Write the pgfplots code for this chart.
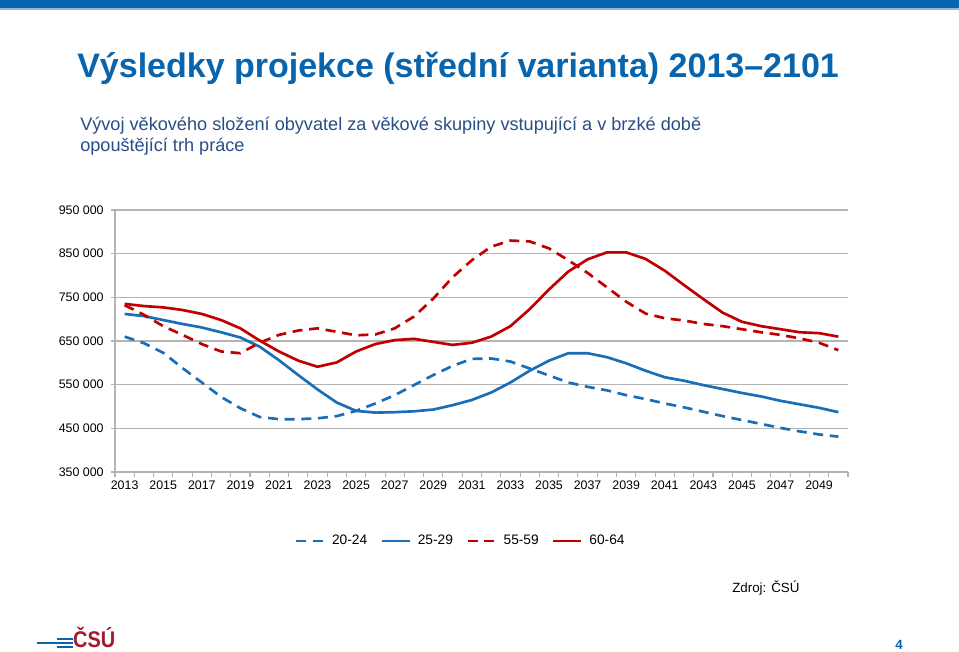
\documentclass[border=0pt]{standalone}
\usepackage{pgfplots}
\pgfplotsset{compat=1.18}
\usepackage{fontspec}
\setmainfont{Liberation Sans}
\definecolor{csublue}{RGB}{8,100,172}
\definecolor{subblue}{RGB}{40,78,135}
\definecolor{serblue}{RGB}{26,110,184}
\definecolor{serred}{RGB}{192,0,0}
\definecolor{gridgray}{RGB}{180,180,180}
\definecolor{logored}{RGB}{160,28,45}

\begin{document}
\begin{tikzpicture}[x=0.75pt,y=-0.75pt]
\path[use as bounding box, fill=white] (0,0) rectangle (959,652);
\fill[csublue] (0,0) rectangle (959,8);
\fill[csublue!45] (0,8.5) rectangle (959,10);
\node[anchor=base west, text=csublue, font=\bfseries\fontsize{25.5}{30}\selectfont, inner sep=0] at (77,78) {Výsledky projekce (střední varianta) 2013–2101};
\node[anchor=base west, text=subblue, font=\fontsize{13.6}{16}\selectfont, inner sep=0] at (80,131) {Vývoj věkového složení obyvatel za věkové skupiny vstupující a v brzké době};
\node[anchor=base west, text=subblue, font=\fontsize{13.6}{16}\selectfont, inner sep=0] at (80,152) {opouštějící trh práce};
\node[anchor=base west, font=\fontsize{10}{12}\selectfont, inner sep=0] at (732,592) {Zdroj: ČSÚ};
\node[anchor=center, text=csublue, font=\bfseries\fontsize{10}{12}\selectfont, inner sep=0] at (899,645) {4};
% logo
\fill[csublue] (57,637.5) rectangle (73,640);
\fill[csublue] (37,641.5) rectangle (73,644);
\fill[csublue] (57,645.5) rectangle (73,648);
\node[anchor=base west, text=logored, font=\bfseries\fontsize{17}{19}\selectfont, inner sep=0, xscale=0.88] at (73,647.5) {ČSÚ};

\coordinate (A) at (115,472);
\begin{axis}[
  at={(A)}, anchor=south west,
  scale only axis, width=549.75pt, height=196.5pt,
  xmin=2012.5, xmax=2050.5,
  ymin=350000, ymax=950000,
  axis lines=left,
  axis line style={gridgray, line width=0.8pt, -},
  xtick={2013,2015,...,2049},
  xticklabels={2013,2015,2017,2019,2021,2023,2025,2027,2029,2031,2033,2035,2037,2039,2041,2043,2045,2047,2049},
  minor xtick={2012.5,2013.5,...,2050.5},
  major tick length=0pt,
  minor tick length=4pt,
  tick align=outside,
  ytick={350000,450000,...,950000},
  yticklabels={350 000,450 000,550 000,650 000,750 000,850 000,950 000},
  extra y ticks={350000,450000,550000,650000,750000,850000,950000},
  extra y tick labels={},
  extra y tick style={major tick length=3pt, tick style={gridgray, line width=0.8pt}, grid=none},
  ymajorgrids,
  grid style={gridgray, line width=0.8pt},
  tick style={gridgray, line width=0.8pt},
  minor tick style={gridgray, line width=0.8pt},
  ticklabel style={font=\fontsize{9.3}{11}\selectfont, text=black},
  yticklabel style={xshift=-5pt},
  xticklabel style={yshift=-3pt},
  scaled y ticks=false,
  clip=false,
  legend columns=4,
  legend style={at={(0.4720,-0.263)}, anchor=center, draw=none, fill=none,
    font=\fontsize{10.3}{12}\selectfont, column sep=3pt,
    /tikz/every even column/.append style={column sep=8pt}},
  legend image code/.code={\draw[#1] (0pt,0pt) -- (21pt,0pt);},
]
\addplot[serblue, line width=2pt, dash pattern=on 7.5pt off 5pt] coordinates {
(2013,660000)(2014,645000)(2015,623000)(2016,588000)(2017,555000)(2018,522000)(2019,496000)(2020,476000)(2021,471000)(2022,471000)(2023,473000)(2024,478000)(2025,490000)(2026,507000)(2027,526000)(2028,549000)(2029,572000)(2030,593000)(2031,609000)(2032,610000)(2033,603000)(2034,587000)(2035,571000)(2036,555000)(2037,545000)(2038,537000)(2039,526000)(2040,517000)(2041,507000)(2042,498000)(2043,488000)(2044,478000)(2045,469000)(2046,460000)(2047,451000)(2048,443000)(2049,436000)(2050,431000)};
\addlegendentry{20-24}
\addplot[serblue, line width=2pt] coordinates {
(2013,712000)(2014,707000)(2015,698000)(2016,689000)(2017,681000)(2018,670000)(2019,658000)(2020,637000)(2021,606000)(2022,572000)(2023,539000)(2024,509000)(2025,490000)(2026,486000)(2027,487000)(2028,489000)(2029,493000)(2030,503000)(2031,515000)(2032,532000)(2033,555000)(2034,582000)(2035,605000)(2036,622000)(2037,622000)(2038,613000)(2039,599000)(2040,582000)(2041,567000)(2042,559000)(2043,549000)(2044,540000)(2045,531000)(2046,523000)(2047,513000)(2048,505000)(2049,497000)(2050,487000)};
\addlegendentry{25-29}
\addplot[serred, line width=2pt, dash pattern=on 7.5pt off 5pt] coordinates {
(2013,732000)(2014,710000)(2015,684000)(2016,664000)(2017,643000)(2018,626000)(2019,622000)(2020,646000)(2021,664000)(2022,674000)(2023,679000)(2024,671000)(2025,663000)(2026,665000)(2027,679000)(2028,706000)(2029,747000)(2030,796000)(2031,835000)(2032,866000)(2033,880000)(2034,878000)(2035,862000)(2036,835000)(2037,806000)(2038,773000)(2039,740000)(2040,713000)(2041,702000)(2042,697000)(2043,689000)(2044,684000)(2045,677000)(2046,670000)(2047,664000)(2048,656000)(2049,646000)(2050,629000)};
\addlegendentry{55-59}
\addplot[serred, line width=2pt] coordinates {
(2013,735000)(2014,730000)(2015,727000)(2016,721000)(2017,712000)(2018,698000)(2019,679000)(2020,651000)(2021,626000)(2022,605000)(2023,591000)(2024,601000)(2025,626000)(2026,643000)(2027,652000)(2028,655000)(2029,648000)(2030,641000)(2031,646000)(2032,660000)(2033,684000)(2034,723000)(2035,768000)(2036,809000)(2037,837000)(2038,853000)(2039,853000)(2040,838000)(2041,811000)(2042,778000)(2043,746000)(2044,715000)(2045,694000)(2046,684000)(2047,677000)(2048,670000)(2049,668000)(2050,660000)};
\addlegendentry{60-64}
\end{axis}
\end{tikzpicture}
\end{document}
